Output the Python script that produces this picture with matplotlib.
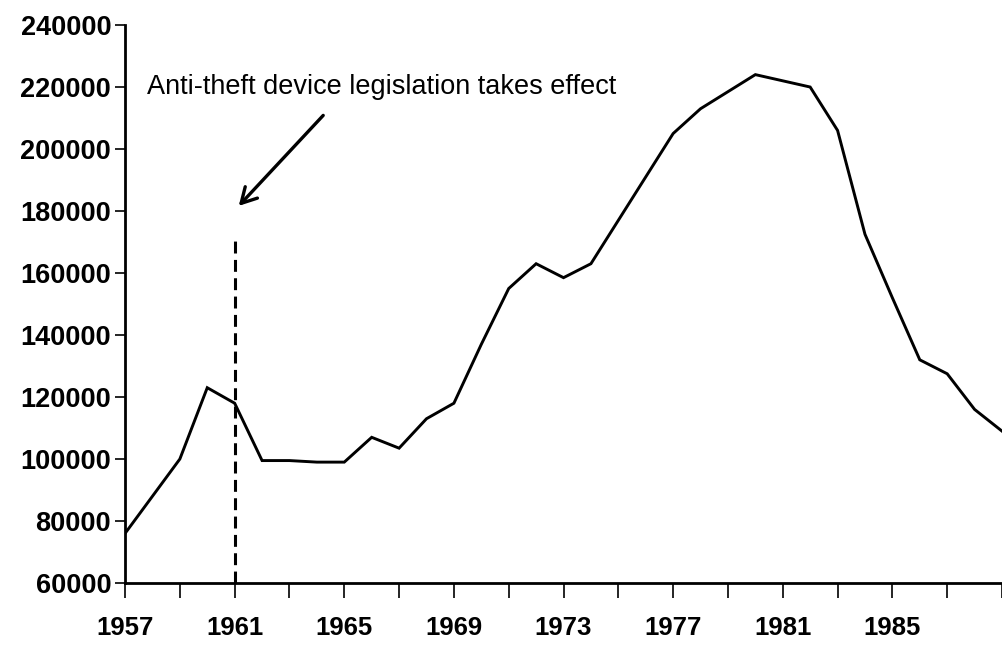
import matplotlib
matplotlib.use("Agg")
import matplotlib.pyplot as plt

plt.rcParams['font.family'] = ['Liberation Sans', 'DejaVu Sans']

# yearly values
years = list(range(1957, 1990))
thefts = [76000, 88000, 100000, 123000, 118000, 99500, 99500, 99000, 99000,
          107000, 103500, 113000, 118000, 137000, 155000, 163000, 158500,
          163000, 177000, 191000, 205000, 213000, 218500, 224000, 222000,
          220000, 206000, 172500, 152000, 132000, 127500, 116000, 109000]

law_year = 1961
law_top = 171500
note = 'Anti-theft device legislation takes effect'
label_years = [1957, 1961, 1965, 1969, 1973, 1977, 1981, 1985]
tick_years = list(range(1957, 1990, 2))
y_ticks = list(range(60000, 240001, 20000))

fig = plt.figure(figsize=(10.02, 6.45), dpi=100)
ax = fig.add_axes([0.1248, 0.0961, 0.8752, 0.8651])

ax.plot(years, thefts, color='black', lw=2.1, solid_joinstyle='miter')
ax.plot([law_year, law_year], [60000, law_top], color='black', lw=2.2,
        linestyle=(0, (3.9, 2.1)))

ax.annotate('', xy=(law_year + 0.08, 181000), xytext=(1964.3, 211500),
            arrowprops=dict(arrowstyle='->, head_width=0.25, head_length=0.45',
                            color='black', lw=2.4, mutation_scale=24))
ax.text(1957.8, 220000, note, fontsize=19.5, va='center', ha='left')

ax.set_xlim(1957, 1988.66)
ax.set_ylim(60000, 240000)
ax.set_yticks(y_ticks)
ax.set_yticklabels([str(v) for v in y_ticks], fontsize=19.5,
                   fontweight='bold')
ax.set_xticks(tick_years, minor=True)
ax.set_xticks(label_years)
ax.set_xticklabels([str(v) for v in label_years], fontsize=18.5,
                   fontweight='bold')

for side in ['top', 'right']:
    ax.spines[side].set_visible(False)
for side in ['left', 'bottom']:
    ax.spines[side].set_linewidth(2.0)

ax.tick_params(axis='y', direction='out', length=7, width=1.2, pad=3)
ax.tick_params(axis='x', which='both', direction='out', length=11,
               width=1.2, pad=13)

fig.savefig('out.png', dpi=100)
